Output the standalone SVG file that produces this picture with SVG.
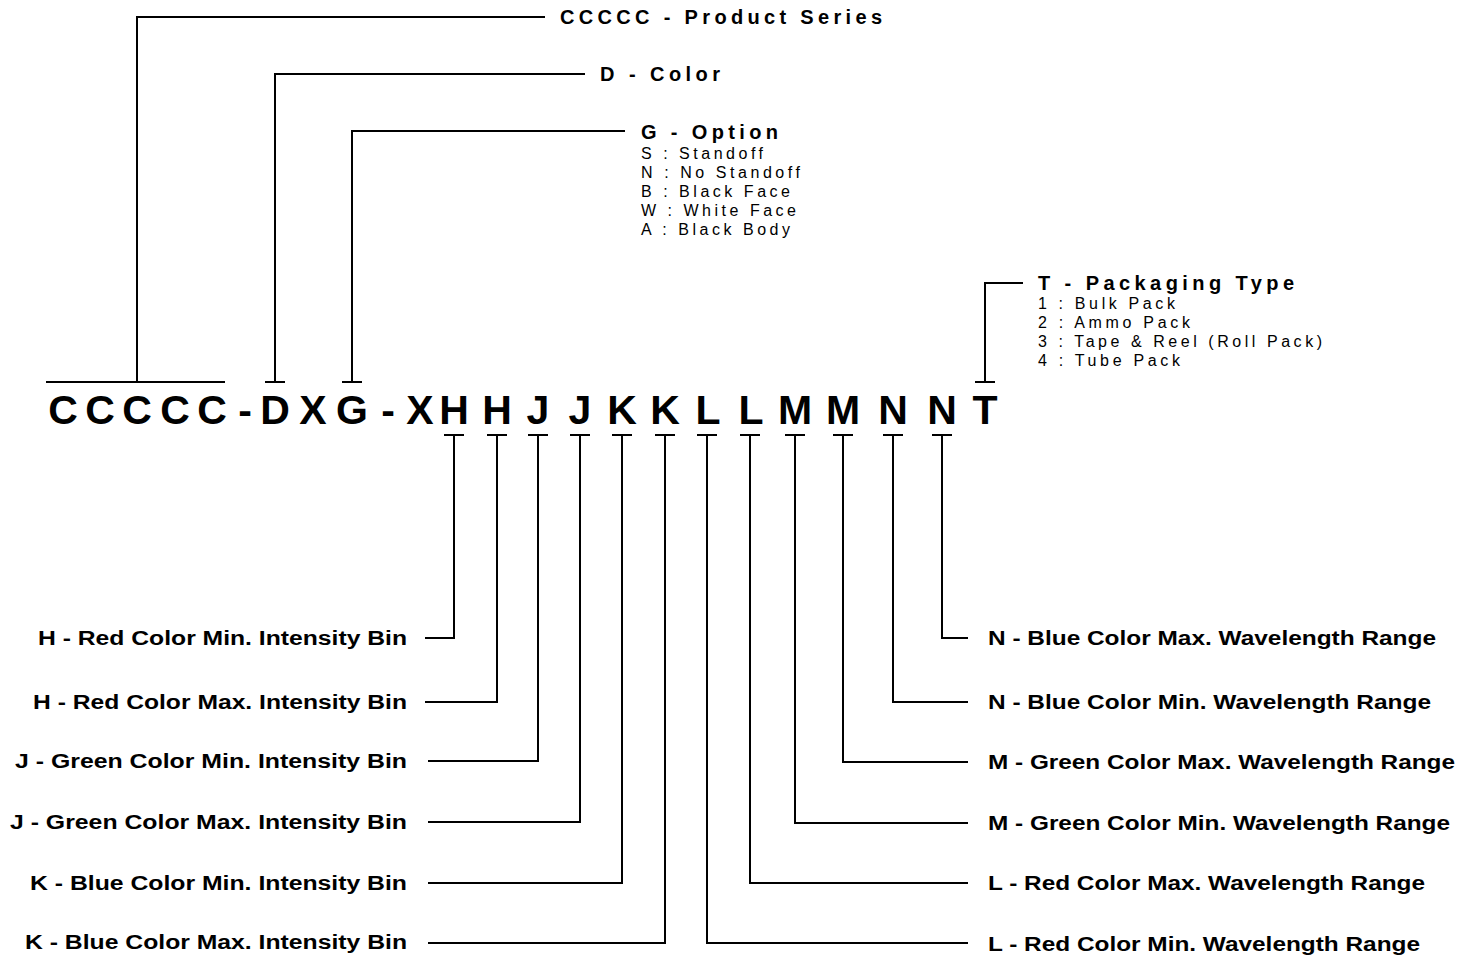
<svg xmlns="http://www.w3.org/2000/svg" width="1473" height="957" viewBox="0 0 1473 957">
<style>
.ln{stroke:#000;stroke-width:2;fill:none}
.code{font-family:"Liberation Sans",Arial,sans-serif;font-weight:bold;font-size:41px;fill:#000;text-anchor:middle}
.ttl{font-family:"Liberation Sans",Arial,sans-serif;font-weight:bold;font-size:20px;fill:#000}
.sub{font-family:"Liberation Sans",Arial,sans-serif;font-size:16px;fill:#000}
.lbl{font-family:"Liberation Sans",Arial,sans-serif;font-weight:bold;font-size:20px;fill:#000}
</style>
<rect width="1473" height="957" fill="#fff"/>
<g id="code">
<text class="code" x="63" y="424">C</text>
<text class="code" x="100" y="424">C</text>
<text class="code" x="137" y="424">C</text>
<text class="code" x="175" y="424">C</text>
<text class="code" x="212" y="424">C</text>
<text class="code" x="245" y="424">-</text>
<text class="code" x="275" y="424">D</text>
<text class="code" x="313" y="424">X</text>
<text class="code" x="352" y="424">G</text>
<text class="code" x="388" y="424">-</text>
<text class="code" x="420" y="424">X</text>
<text class="code" x="454" y="424">H</text>
<text class="code" x="497" y="424">H</text>
<text class="code" x="538" y="424">J</text>
<text class="code" x="580" y="424">J</text>
<text class="code" x="622" y="424">K</text>
<text class="code" x="665" y="424">K</text>
<text class="code" x="708" y="424">L</text>
<text class="code" x="751" y="424">L</text>
<text class="code" x="795" y="424">M</text>
<text class="code" x="843" y="424">M</text>
<text class="code" x="893" y="424">N</text>
<text class="code" x="942" y="424">N</text>
<text class="code" x="985" y="424">T</text>
</g>
<g id="connectors">
<path class="ln" d="M46 382H225M137 382V17H545"/>
<path class="ln" d="M265 382H285M275 382V74H585"/>
<path class="ln" d="M342 382H362M352 382V131H625"/>
<path class="ln" d="M975 382H995M985 382V283H1023"/>
<path class="ln" d="M444 435H464M454 435V638H425"/>
<path class="ln" d="M487 435H507M497 435V702H425"/>
<path class="ln" d="M528 435H548M538 435V761H428"/>
<path class="ln" d="M570 435H590M580 435V822H428"/>
<path class="ln" d="M612 435H632M622 435V883H428"/>
<path class="ln" d="M655 435H675M665 435V943H428"/>
<path class="ln" d="M932 435H952M942 435V638H968"/>
<path class="ln" d="M883 435H903M893 435V702H968"/>
<path class="ln" d="M833 435H853M843 435V762H968"/>
<path class="ln" d="M785 435H805M795 435V823H968"/>
<path class="ln" d="M740 435H760M750 435V883H968"/>
<path class="ln" d="M697 435H717M707 435V943H968"/>
</g>
<g id="series"><text class="ttl" x="560" y="24" textLength="322" lengthAdjust="spacing">CCCCC - Product Series</text></g>
<g id="color"><text class="ttl" x="600" y="81" textLength="120" lengthAdjust="spacing">D - Color</text></g>
<g id="option">
<text class="ttl" x="641" y="139" textLength="137" lengthAdjust="spacing">G - Option</text>
<text class="sub" x="641" y="159" textLength="122" lengthAdjust="spacing">S : Standoff</text>
<text class="sub" x="641" y="178" textLength="159" lengthAdjust="spacing">N : No Standoff</text>
<text class="sub" x="641" y="197" textLength="149" lengthAdjust="spacing">B : Black Face</text>
<text class="sub" x="641" y="216" textLength="155" lengthAdjust="spacing">W : White Face</text>
<text class="sub" x="641" y="235" textLength="149" lengthAdjust="spacing">A : Black Body</text>
</g>
<g id="packaging">
<text class="ttl" x="1038" y="290" textLength="256" lengthAdjust="spacing">T - Packaging Type</text>
<text class="sub" x="1038" y="309" textLength="137" lengthAdjust="spacing">1 : Bulk Pack</text>
<text class="sub" x="1038" y="328" textLength="152" lengthAdjust="spacing">2 : Ammo Pack</text>
<text class="sub" x="1038" y="347" textLength="284" lengthAdjust="spacing">3 : Tape &amp; Reel (Roll Pack)</text>
<text class="sub" x="1038" y="366" textLength="142" lengthAdjust="spacing">4 : Tube Pack</text>
</g>
<g id="left-labels">
<text class="lbl" x="38" y="645" textLength="369" lengthAdjust="spacingAndGlyphs">H - Red Color Min. Intensity Bin</text>
<text class="lbl" x="33" y="709" textLength="374" lengthAdjust="spacingAndGlyphs">H - Red Color Max. Intensity Bin</text>
<text class="lbl" x="15" y="768" textLength="392" lengthAdjust="spacingAndGlyphs">J - Green Color Min. Intensity Bin</text>
<text class="lbl" x="10" y="829" textLength="397" lengthAdjust="spacingAndGlyphs">J - Green Color Max. Intensity Bin</text>
<text class="lbl" x="30" y="890" textLength="377" lengthAdjust="spacingAndGlyphs">K - Blue Color Min. Intensity Bin</text>
<text class="lbl" x="25" y="949" textLength="382" lengthAdjust="spacingAndGlyphs">K - Blue Color Max. Intensity Bin</text>
</g>
<g id="right-labels">
<text class="lbl" x="988" y="645" textLength="448" lengthAdjust="spacingAndGlyphs">N - Blue Color Max. Wavelength Range</text>
<text class="lbl" x="988" y="709" textLength="443" lengthAdjust="spacingAndGlyphs">N - Blue Color Min. Wavelength Range</text>
<text class="lbl" x="988" y="769" textLength="467" lengthAdjust="spacingAndGlyphs">M - Green Color Max. Wavelength Range</text>
<text class="lbl" x="988" y="830" textLength="462" lengthAdjust="spacingAndGlyphs">M - Green Color Min. Wavelength Range</text>
<text class="lbl" x="988" y="890" textLength="437" lengthAdjust="spacingAndGlyphs">L - Red Color Max. Wavelength Range</text>
<text class="lbl" x="988" y="951" textLength="432" lengthAdjust="spacingAndGlyphs">L - Red Color Min. Wavelength Range</text>
</g>
</svg>
